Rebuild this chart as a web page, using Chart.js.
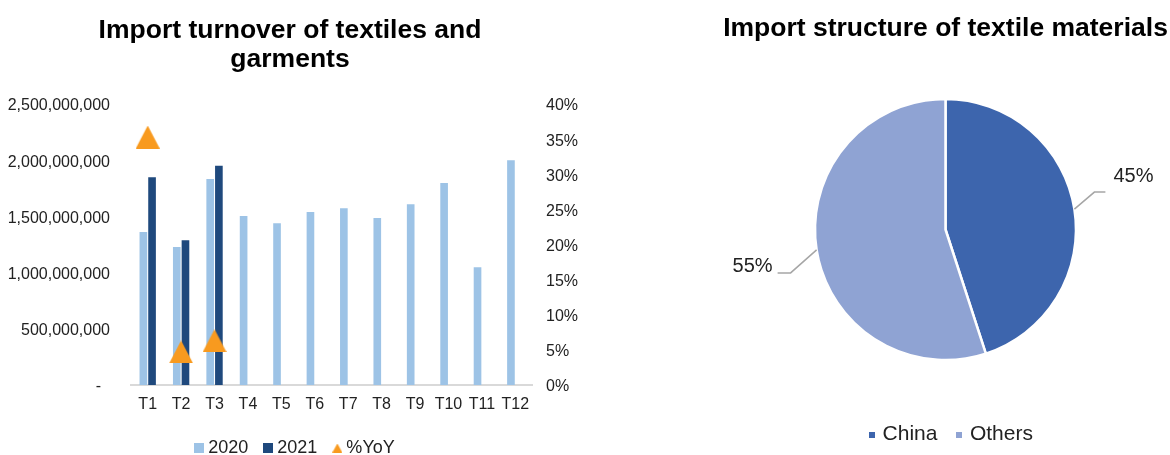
<!DOCTYPE html>
<html>
<head>
<meta charset="utf-8">
<script src="https://cdn.jsdelivr.net/npm/chart.js@4.4.1/dist/chart.umd.min.js"></script>
<style>
  html, body { margin: 0; padding: 0; background: #fff; }
  body { width: 1170px; height: 455px; overflow: hidden; position: relative; }
  #leftBox { position: absolute; left: 0; top: 0; width: 580px; height: 455px; }
  #rightBox { position: absolute; left: 721px; top: 0; width: 449px; height: 455px; }
</style>
</head>
<body>
<div id="leftBox"><canvas id="turnover" width="580" height="455"></canvas></div>
<div id="rightBox"><canvas id="structure" width="449" height="455"></canvas></div>
<script>
// data
const months = ["T1", "T2", "T3", "T4", "T5", "T6", "T7", "T8", "T9", "T10", "T11", "T12"];
const import2020 = [1361e6, 1228e6, 1833e6, 1504e6, 1438e6, 1539e6, 1572e6, 1486e6, 1608e6, 1797e6, 1047e6, 1999e6];
const import2021 = [1848e6, 1287e6, 1951e6, null, null, null, null, null, null, null, null, null];
const yoyPct = [35.3, 4.7, 6.3, null, null, null, null, null, null, null, null, null];
const turnoverMax = 2500000000, turnoverStep = 500000000;
const pctMax = 40, pctStep = 5;

const materialLabels = ["China", "Others"];
const materialShares = [45, 55];

const LIGHT = "#9DC3E6", DARK = "#1F497D", ORANGE = "#F89A1F";
const CHINA = "#3D65AD", OTHERS = "#8FA3D3";

Chart.defaults.font.family = "'Liberation Sans', Arial, sans-serif";
Chart.defaults.color = "#222";

function marker(shape, w, h, color) {
  const c = document.createElement("canvas");
  c.width = w; c.height = h;
  const g = c.getContext("2d");
  g.fillStyle = color;
  if (shape === "triangle") {
    g.beginPath();
    g.moveTo(w / 2, 0);
    g.lineTo(w, h);
    g.lineTo(0, h);
    g.closePath();
    g.fill();
  } else {
    g.fillRect(0, 0, w, h);
  }
  return c;
}

function withCommas(v) {
  return v.toString().replace(/\B(?=(\d{3})+(?!\d))/g, ",");
}

// moves the legend sideways a little, the library centres it a bit off
const legendNudge = {
  id: "legendNudge",
  afterLayout(chart, args, opts) {
    if (chart.legend && opts.dx) {
      chart.legend.left += opts.dx;
      chart.legend.right += opts.dx;
    }
  }
};

// percent labels with elbow leader lines outside the pie
const sliceLabels = {
  id: "sliceLabels",
  afterDatasetsDraw(chart, args, opts) {
    const ctx = chart.ctx;
    const data = chart.data.datasets[0].data;
    const total = data.reduce((a, b) => a + b, 0);
    chart.getDatasetMeta(0).data.forEach((arc, i) => {
      const p = arc.getProps(["x", "y", "startAngle", "endAngle", "outerRadius"], true);
      const mid = (p.startAngle + p.endAngle) / 2;
      const lead = opts.leaders[i];
      const ax = p.x + Math.cos(mid) * p.outerRadius;
      const ay = p.y + Math.sin(mid) * p.outerRadius;
      const bx = ax + lead.dx, by = ay + lead.dy;
      const cx = bx + lead.tail;
      ctx.save();
      ctx.strokeStyle = "#A6A6A6";
      ctx.lineWidth = 1.5;
      ctx.beginPath();
      ctx.moveTo(ax, ay);
      ctx.lineTo(bx, by);
      ctx.lineTo(cx, by);
      ctx.stroke();
      ctx.font = "20px 'Liberation Sans', Arial, sans-serif";
      ctx.fillStyle = "#222";
      ctx.textBaseline = "middle";
      ctx.textAlign = lead.tail > 0 ? "left" : "right";
      ctx.fillText(Math.round(data[i] / total * 100) + "%", cx + lead.textDx, by + lead.textDy);
      ctx.restore();
    });
  }
};

const barMarks = [marker("rect", 10, 10, LIGHT), marker("rect", 10, 10, DARK), marker("triangle", 10, 9, ORANGE)];
const pieMarks = [marker("rect", 6, 6, CHINA), marker("rect", 6, 6, OTHERS)];

new Chart(document.getElementById("turnover"), {
  type: "bar",
  data: {
    labels: months,
    datasets: [
      { label: "2020", data: import2020, backgroundColor: LIGHT, yAxisID: "y", order: 1,
        categoryPercentage: 0.52, barPercentage: 0.88 },
      { label: "2021", data: import2021, backgroundColor: DARK, yAxisID: "y", order: 1,
        categoryPercentage: 0.52, barPercentage: 0.88 },
      { type: "line", label: "%YoY", data: yoyPct, yAxisID: "y1", order: 0, showLine: false,
        pointStyle: marker("triangle", 24, 23, ORANGE), pointRadius: 12, pointHoverRadius: 12 }
    ]
  },
  options: {
    responsive: false,
    animation: false,
    events: [],
    layout: { padding: { top: 0, left: 0, right: 0, bottom: -12 } },
    scales: {
      x: {
        grid: { display: false, drawTicks: false },
        border: { color: "#D9D9D9", width: 2 },
        ticks: { padding: 10, font: { size: 16 }, maxRotation: 0, autoSkip: false },
        afterFit(s) { s.height = 34; }
      },
      y: {
        position: "left", min: 0, max: turnoverMax,
        grid: { display: false, drawTicks: false },
        border: { display: false },
        ticks: { stepSize: turnoverStep, padding: 21, labelOffset: 2, font: { size: 16 },
                 callback: v => v === 0 ? "-  " : withCommas(v) },
        afterFit(s) { s.width = 131; }
      },
      y1: {
        position: "right", min: 0, max: pctMax,
        grid: { display: false, drawTicks: false },
        border: { display: false },
        ticks: { stepSize: pctStep, padding: 14, labelOffset: 2, font: { size: 16 },
                 callback: v => v + "%" },
        afterFit(s) { s.width = 48; }
      }
    },
    plugins: {
      title: {
        display: true,
        text: ["Import turnover of textiles and", "garments"],
        color: "#000",
        font: { size: 26.5, weight: "bold", lineHeight: 1.1 },
        padding: { top: 16, bottom: 29.7 }
      },
      legend: {
        position: "bottom",
        labels: {
          usePointStyle: true, boxWidth: 0.01, padding: 20, font: { size: 18 },
          generateLabels(chart) {
            const items = Chart.defaults.plugins.legend.labels.generateLabels(chart);
            items.sort((a, b) => a.datasetIndex - b.datasetIndex);
            items.forEach(it => { it.pointStyle = barMarks[it.datasetIndex]; });
            return items;
          }
        }
      },
      tooltip: { enabled: false },
      legendNudge: { dx: 7 }
    }
  },
  plugins: [legendNudge]
});

new Chart(document.getElementById("structure"), {
  type: "pie",
  data: {
    labels: materialLabels,
    datasets: [{
      data: materialShares,
      backgroundColor: [CHINA, OTHERS],
      borderColor: "#fff",
      borderWidth: 2.5,
      radius: 130.5,
      hoverOffset: 0
    }]
  },
  options: {
    responsive: false,
    animation: false,
    events: [],
    plugins: {
      title: {
        display: true,
        text: "Import structure of textile materials",
        color: "#000",
        font: { size: 26.5, weight: "bold", lineHeight: 1 },
        padding: { top: 15.5, bottom: 15 }
      },
      legend: {
        position: "bottom",
        labels: {
          usePointStyle: true, boxWidth: 0.01, padding: 22, font: { size: 21 },
          generateLabels(chart) {
            const items = Chart.overrides.pie.plugins.legend.labels.generateLabels(chart);
            items.forEach((it, i) => { it.pointStyle = pieMarks[i]; });
            return items;
          }
        }
      },
      tooltip: { enabled: false },
      legendNudge: { dx: 7 },
      sliceLabels: {
        leaders: [
          { dx: 20, dy: -17, tail: 11, textDx: 8, textDy: -16 },
          { dx: -26, dy: 23, tail: -13, textDx: -5, textDy: -6 }
        ]
      }
    }
  },
  plugins: [legendNudge, sliceLabels]
});
</script>
</body>
</html>
